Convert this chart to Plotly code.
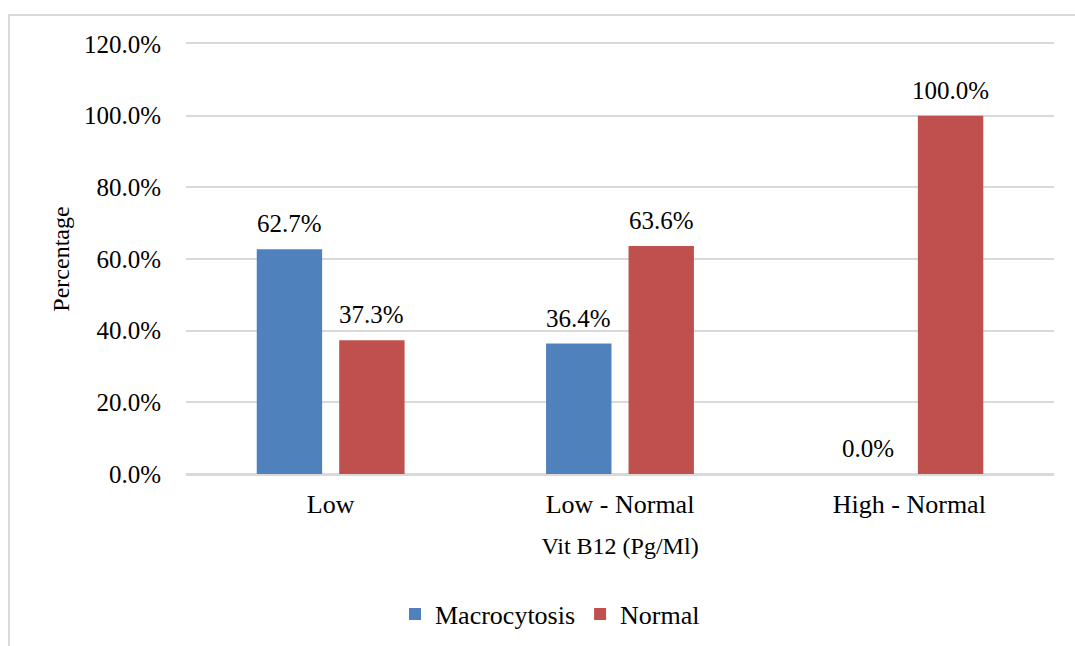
import plotly.graph_objects as go

categories = ["Low", "Low - Normal", "High - Normal"]
macrocytosis = [0.627, 0.364, 0.0]
normal = [0.373, 0.636, 1.0]
y_ticks = [0.0, 0.2, 0.4, 0.6, 0.8, 1.0, 1.2]

FONT = "Liberation Serif"
BLUE = "#4f81bd"
RED = "#c0504d"
GRID = "#d9d9d9"

fig = go.Figure()
fig.add_trace(go.Bar(
    x=categories, y=macrocytosis, name="Macrocytosis",
    marker=dict(color=BLUE, line=dict(width=0)),
    offsetgroup="m",
))
fig.add_trace(go.Bar(
    x=categories, y=normal, name="Normal",
    marker=dict(color=RED, line=dict(width=0)),
    offsetgroup="n",
))

# value labels above each bar, offset within the category by the bar slot
slot = 0.5 * (1 - 0.43)  # fraction of a category occupied by one bar slot
for i, cat in enumerate(categories):
    for vals, dx in ((macrocytosis, -slot / 2), (normal, slot / 2)):
        fig.add_annotation(
            x=i + dx, y=vals[i], xref="x", yref="y",
            text=f"{vals[i] * 100:.1f}%", showarrow=False,
            yanchor="bottom", yshift=10,
            font=dict(family=FONT, size=25, color="black"),
        )

fig.update_layout(
    width=1075, height=646,
    margin=dict(l=186, r=21, t=44, b=172, autoexpand=False),
    paper_bgcolor="white", plot_bgcolor="white",
    barmode="group", bargap=0.43, bargroupgap=0.207,
    font=dict(family=FONT, size=25, color="black"),
    showlegend=True,
    legend=dict(
        orientation="h", xref="container", x=550 / 1075, xanchor="center",
        yref="container", y=1 - 614 / 646, yanchor="middle",
        font=dict(family=FONT, size=26, color="black"),
        traceorder="normal",
    ),
)

fig.update_xaxes(
    type="category", automargin=False,
    showgrid=False, ticks="", ticklabelstandoff=6,
    showline=True, linecolor=GRID, linewidth=1.5, mirror=True,
    tickfont=dict(family=FONT, size=26, color="black"),
    title=dict(text="Vit B12 (Pg/Ml)", font=dict(family=FONT, size=24, color="black"), standoff=19),
)
fig.update_yaxes(
    range=[0, 1.2], tickvals=y_ticks, tickformat=".1%", automargin=False,
    showgrid=True, gridcolor=GRID, gridwidth=1.5,
    zeroline=True, zerolinecolor=GRID, zerolinewidth=1.5,
    showline=False, ticks="", ticklabelstandoff=24,
    tickfont=dict(family=FONT, size=25, color="black"),
    title=dict(text="Percentage", font=dict(family=FONT, size=24, color="black"), standoff=7),
)

# outer chart frame (right and bottom edges fall outside the canvas)
fig.add_shape(
    type="rect", xref="paper", yref="paper",
    x0=(9 - 186) / 868, x1=1.2, y0=-0.6, y1=1 + (44 - 15) / 430,
    line=dict(color=GRID, width=2), fillcolor="rgba(0,0,0,0)", layer="below",
)

fig.write_html("out.html")
